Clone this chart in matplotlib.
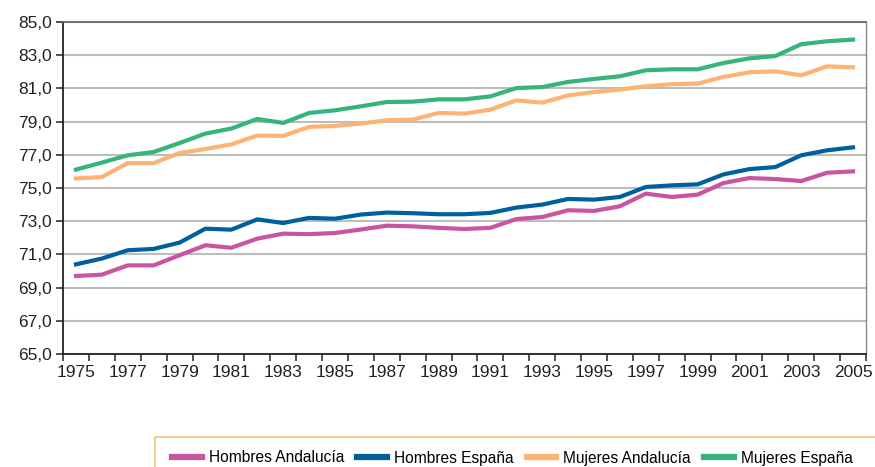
import numpy as np
import matplotlib
matplotlib.use("Agg")
import matplotlib.pyplot as plt
from matplotlib.lines import Line2D
from matplotlib.patches import Rectangle

plt.rcParams['font.family'] = ['Liberation Sans', 'DejaVu Sans']

years = list(range(1975, 2006))

hombres_andalucia = [69.70, 69.78, 70.34, 70.34, 70.95, 71.55, 71.40, 71.95, 72.25, 72.22,
                     72.29, 72.50, 72.73, 72.69, 72.60, 72.53, 72.60, 73.13, 73.25, 73.66,
                     73.62, 73.90, 74.66, 74.46, 74.60, 75.30, 75.60, 75.54, 75.42, 75.92,
                     76.00]
hombres_espana = [70.40, 70.75, 71.25, 71.33, 71.71, 72.55, 72.49, 73.11, 72.89, 73.20,
                  73.15, 73.40, 73.52, 73.48, 73.42, 73.42, 73.50, 73.82, 74.00, 74.34,
                  74.30, 74.46, 75.06, 75.16, 75.22, 75.82, 76.14, 76.26, 76.97, 77.27,
                  77.45]
mujeres_andalucia = [75.57, 75.66, 76.50, 76.50, 77.11, 77.35, 77.63, 78.16, 78.14, 78.68,
                     78.74, 78.88, 79.08, 79.12, 79.52, 79.48, 79.72, 80.28, 80.14, 80.58,
                     80.78, 80.93, 81.13, 81.25, 81.29, 81.69, 81.97, 82.03, 81.79, 82.33,
                     82.27]
mujeres_espana = [76.11, 76.53, 76.97, 77.17, 77.71, 78.28, 78.58, 79.16, 78.92, 79.52,
                  79.68, 79.92, 80.18, 80.20, 80.34, 80.34, 80.52, 81.02, 81.08, 81.39,
                  81.57, 81.73, 82.09, 82.15, 82.15, 82.53, 82.81, 82.95, 83.66, 83.84,
                  83.94]

series_names = ["Hombres Andalucía", "Hombres España", "Mujeres Andalucía", "Mujeres España"]
series_colors = ["#C954A0", "#00609E", "#FDB376", "#35B47B"]

y_ticks = np.arange(65, 86, 2)
y_labels = ["%.1f" % v for v in y_ticks]
y_labels = [s.replace(".", ",") for s in y_labels]

W, H = 875, 467
fig = plt.figure(figsize=(W / 100, H / 100), dpi=100)
ax = fig.add_axes([63 / W, 1 - 354 / H, (866 - 63) / W, (354 - 22) / H])

x = np.arange(len(years))
data = [hombres_andalucia, hombres_espana, mujeres_andalucia, mujeres_espana]
for vals, name, col in zip(data, series_names, series_colors):
    ax.plot(x, vals, color=col, lw=3, label=name, solid_joinstyle='round')

ax.set_xlim(-0.5, len(years) - 0.5)
ax.set_ylim(65, 85)

# y grid
ax.set_yticks(y_ticks)
ax.set_yticklabels(y_labels, fontsize=12.5, color="#222222")
ax.yaxis.grid(True, color="#BDBDBD", lw=1.5)
ax.set_axisbelow(True)
ax.tick_params(axis='y', direction='out', length=5, width=1.2, color="#333333", pad=3)

# x: labels on every other year, tick marks at category boundaries
ax.set_xticks(x[::2])
ax.set_xticklabels([str(y) for y in years[::2]], fontsize=12.5, color="#222222")
ax.set_xticks(np.arange(-0.5, len(years), 1), minor=True)
ax.tick_params(axis='x', which='major', length=0, pad=8)
ax.tick_params(axis='x', which='minor', direction='out', length=5, width=1.2, color="#333333")

for side in ['left', 'bottom']:
    ax.spines[side].set_color("#222222")
    ax.spines[side].set_linewidth(1.3)
ax.spines['top'].set_color("#666666")
ax.spines['top'].set_linewidth(1.3)
ax.spines['right'].set_color("#888888")
ax.spines['right'].set_linewidth(1.0)

# legend box runs off the right and bottom edges
box = Rectangle((155 / W, -0.05), 1.0, 0.05 + (H - 437) / H, transform=fig.transFigure,
                fill=False, edgecolor="#F2C47E", lw=1.2)
fig.patches.append(box)

handles = [Line2D([], [], color=c, lw=4.5) for c in series_colors]
leg = fig.legend(handles, series_names, loc='center left', ncol=4,
                 bbox_to_anchor=(172 / W, 1 - 458 / H), borderaxespad=0, borderpad=0,
                 prop={'size': 11.2}, handlelength=1.9, handletextpad=0.45,
                 columnspacing=0.85, frameon=False)

fig.savefig("out.png", dpi=100)
